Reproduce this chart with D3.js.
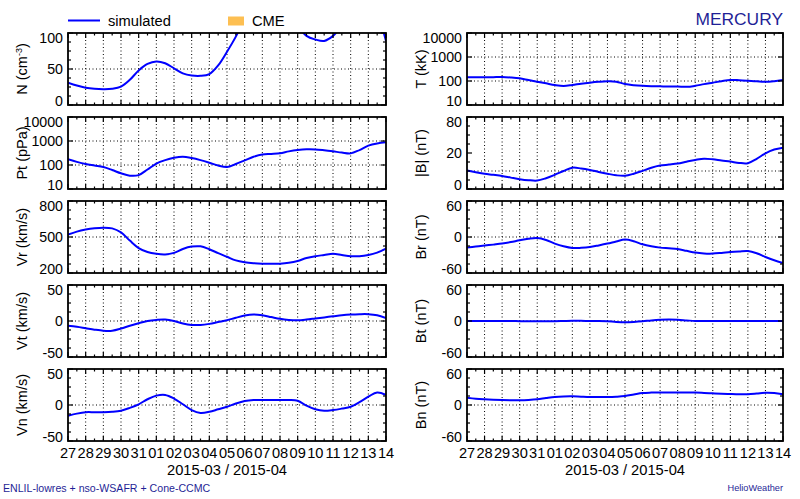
<!DOCTYPE html>
<html><head><meta charset="utf-8">
<script src="https://cdn.jsdelivr.net/npm/d3@7"></script>
<style>
body{margin:0;background:#fff}
svg{display:block}
text{font-family:"Liberation Sans",Arial,Helvetica,sans-serif}
</style>
</head><body>
<svg id="c" width="800" height="499"></svg>
<script>
// ---------------- data ----------------
const startDate = "2015-03-27T00:00:00Z";
const endDate = "2015-04-14T00:00:00Z";
const dayLabels = ["27","28","29","30","31","01","02","03","04","05","06","07","08","09","10","11","12","13","14"];
const axisTitle = "2015-03 / 2015-04";
const dayOffsets = [0,0.5,1,1.5,2,2.5,3,3.5,4,4.5,5,5.5,6,6.5,7,7.5,8,8.5,9,9.5,10,10.5,11,11.5,12,12.5,13,13.5,14,14.5,15,15.5,16,16.5,17,17.5,18];

const density = [31,27,24,22.5,22,22.5,25.5,35,48,57,60.5,58,51,44,41,40.5,43,55,74,95,120,140,155,160,150,130,110,96,91,89,96,110,125,132,130,122,89];
const pressure = [173,135,110,95,82,62,45,36,38,65,115,160,200,220,195,160,125,95,82,110,155,220,275,290,310,370,420,450,445,410,370,330,305,420,640,790,880];
const vr = [520,545,562,573,578,572,538,470,408,375,360,355,368,400,420,422,398,365,335,305,290,282,278,277,278,285,300,325,340,350,360,350,340,340,350,370,403];
const vt = [-6.5,-8,-10,-12,-13.5,-13.5,-10.5,-6.5,-3,0,1.5,2,0,-3.5,-5.5,-5.5,-4,-1.5,1,4.5,7.5,9,8,5.5,3,1.5,1,2,3.5,5,6.5,8,9,9.5,9.5,8,4];
const vn = [-15,-12,-10,-10,-10,-9.5,-8,-4,1,8,13,14,9,1,-7,-11,-9.5,-6,-2.5,2,5.5,7,7,7,7,7,6,-1,-6,-8,-7,-5,-2.5,4,11.5,17.5,14];
const temperature = [143,143,143,145,147,140,129,110,94,80,68,62,68,77,85,92,97,94,75,67,63,61,60,59,59,57,63,74,85,98,110,108,103,97,92,98,110];
const bmag = [5.3,4.3,3.6,3.1,2.6,2.0,1.5,1.2,1.1,1.8,3.1,5.0,7.0,6.5,5.6,4.5,3.6,2.9,2.7,3.6,5.1,7.0,8.5,9.2,10.0,11.5,13.0,14.2,13.6,12.5,11.6,10.5,10.3,14,19.7,24,26.3];
const br = [-17.7,-16,-14.3,-12.7,-11,-8.5,-5.5,-3,-1.8,-5,-11,-15.5,-18.3,-18,-16.7,-14,-11,-7.5,-4.3,-7,-12.2,-15.5,-17.7,-18.8,-20,-23,-26,-27.5,-27.7,-26.5,-25,-24,-23.3,-27,-33.3,-38.8,-43.4];
const bt = [0,0,0,0,0,0,-0.3,-0.5,-0.5,-0.5,-0.3,0,0.3,0.3,0,0,-0.5,-1.5,-2,-1.5,-0.5,1,2,2.3,2,1,0,0,0,0,0,0,0,0,0,0,0];
const bn = [12.2,10.5,9.5,8.8,8.3,8,8,8.5,9.5,11.5,13.3,14.2,14.4,13.8,13.3,13.3,13.3,13.8,14.9,17.5,20,20.7,20.9,21,20.9,21,20.9,20.2,19.4,18.8,18.3,17.9,17.8,19,20.5,20,17.8];

const legendLabels = ["simulated","CME"];
const planetName = "MERCURY";
const footLeft = "ENLIL-lowres + nso-WSAFR + Cone-CCMC";
const footRight = "HelioWeather";

// ---------------- layout ----------------
const svg = d3.select("#c");
const cols = [{x0:68,x1:386},{x0:467,x1:783}];
const rowTops = [33,117,201,285,369];
const PH = 72;
const lineColor = "#0000ff";
const navy = "#1f1f96";

const t0 = new Date(startDate), t1 = new Date(endDate);
const times = dayOffsets.map(d => new Date(t0.getTime() + d*864e5));
const dayTicks = dayLabels.map((_,i) => new Date(t0.getTime() + i*864e5));
const halfTicks = dayLabels.slice(1).map((_,i) => new Date(t0.getTime() + (i+0.5)*864e5));

const panels = [
  {col:0,row:0,title:"N",unit:"cm",sup:"-3",values:density,type:"linear",domain:[0,100],ticks:[0,50,100],grid:[50]},
  {col:0,row:1,title:"Pt (pPa)",values:pressure,type:"log",domain:[10,10000],ticks:[10,100,1000,10000],grid:[100,1000]},
  {col:0,row:2,title:"Vr (km/s)",values:vr,type:"linear",domain:[200,800],ticks:[200,500,800],grid:[500]},
  {col:0,row:3,title:"Vt (km/s)",values:vt,type:"linear",domain:[-50,50],ticks:[-50,0,50],grid:[0]},
  {col:0,row:4,title:"Vn (km/s)",values:vn,type:"linear",domain:[-50,50],ticks:[-50,0,50],grid:[0]},
  {col:1,row:0,title:"T (kK)",values:temperature,type:"log",domain:[10,10000],ticks:[10,100,1000,10000],grid:[100,1000]},
  {col:1,row:1,title:"|B| (nT)",values:bmag,type:"sqrt",domain:[0,80],ticks:[0,20,80],grid:[5]},
  {col:1,row:2,title:"Br (nT)",values:br,type:"linear",domain:[-60,60],ticks:[-60,0,60],grid:[0]},
  {col:1,row:3,title:"Bt (nT)",values:bt,type:"linear",domain:[-60,60],ticks:[-60,0,60],grid:[0]},
  {col:1,row:4,title:"Bn (nT)",values:bn,type:"linear",domain:[-60,60],ticks:[-60,0,60],grid:[0]}
];

const defs = svg.append("defs");

panels.forEach((p,pi) => {
  const c = cols[p.col];
  const top = rowTops[p.row], bot = top + PH;
  const x = d3.scaleUtc().domain([t0,t1]).range([c.x0,c.x1]);
  let y;
  if (p.type === "log") y = d3.scaleLog().domain(p.domain).range([bot,top]);
  else if (p.type === "sqrt") y = d3.scaleSqrt().domain(p.domain).range([bot,top]);
  else y = d3.scaleLinear().domain(p.domain).range([bot,top]);
  const g = svg.append("g");

  // vertical grid (days)
  g.selectAll(null).data(dayTicks.slice(1,-1)).join("line")
    .attr("x1",d=>x(d)).attr("x2",d=>x(d)).attr("y1",top).attr("y2",bot)
    .attr("stroke","#000").attr("stroke-width",1).attr("stroke-dasharray","1,2.5");
  // horizontal grid
  g.selectAll(null).data(p.grid).join("line")
    .attr("x1",c.x0).attr("x2",c.x1).attr("y1",d=>y(d)).attr("y2",d=>y(d))
    .attr("stroke","#000").attr("stroke-width",1).attr("stroke-dasharray","1,2.5");

  // data line, clipped
  const cid = "clip"+pi;
  defs.append("clipPath").attr("id",cid).append("rect")
    .attr("x",c.x0).attr("y",top).attr("width",c.x1-c.x0).attr("height",PH);
  const line = d3.line().x((d,i)=>x(times[i])).y(d=>y(d)).curve(d3.curveCatmullRom.alpha(0.5));
  g.append("path").attr("clip-path",`url(#${cid})`).attr("d",line(p.values))
    .attr("fill","none").attr("stroke",lineColor).attr("stroke-width",2);

  // x ticks (top and bottom, inward)
  const xt = (arr,len) => {
    g.selectAll(null).data(arr).join("line")
      .attr("x1",d=>x(d)).attr("x2",d=>x(d)).attr("y1",bot).attr("y2",bot-len)
      .attr("stroke","#000").attr("stroke-width",1.2);
    g.selectAll(null).data(arr).join("line")
      .attr("x1",d=>x(d)).attr("x2",d=>x(d)).attr("y1",top).attr("y2",top+len)
      .attr("stroke","#000").attr("stroke-width",1.2);
  };
  xt(dayTicks,5); xt(halfTicks,2.5);

  // y ticks (left and right, inward): majors + minors at pixel quarters
  const majorPx = p.ticks.map(v=>y(v));
  const minorPx = [];
  if (p.type !== "log") {
    for (let i=0;i<majorPx.length-1;i++) {
      for (let k=1;k<4;k++) minorPx.push(majorPx[i] + (majorPx[i+1]-majorPx[i])*k/4);
    }
  }
  const yt = (arr,len) => {
    g.selectAll(null).data(arr).join("line")
      .attr("x1",c.x0).attr("x2",c.x0+len).attr("y1",d=>d).attr("y2",d=>d)
      .attr("stroke","#000").attr("stroke-width",1.2);
    g.selectAll(null).data(arr).join("line")
      .attr("x1",c.x1).attr("x2",c.x1-len).attr("y1",d=>d).attr("y2",d=>d)
      .attr("stroke","#000").attr("stroke-width",1.2);
  };
  yt(majorPx,5); yt(minorPx,3);

  // frame
  g.append("rect").attr("x",c.x0).attr("y",top).attr("width",c.x1-c.x0).attr("height",PH)
    .attr("fill","none").attr("stroke","#000").attr("stroke-width",1.8);

  // y tick labels
  g.selectAll(null).data(p.ticks).join("text")
    .attr("x",c.x0-5)
    .attr("y",d=>Math.max(top+4.5,Math.min(bot-4.5,y(d))))
    .attr("dy","0.36em").attr("text-anchor","end")
    .attr("font-size",14.2).attr("fill","#000")
    .text(d=>d);

  // y title
  const tx = p.col===0 ? 22 : 421;
  const tt = g.append("text")
    .attr("transform",`translate(${tx},${(top+bot)/2}) rotate(-90)`)
    .attr("text-anchor","middle").attr("dy","0.36em")
    .attr("font-size",14.5).attr("fill","#000");
  if (p.sup) {
    tt.append("tspan").text(p.title+" ("+p.unit);
    tt.append("tspan").attr("font-size",9).attr("dy","-0.55em").text(p.sup);
    tt.append("tspan").attr("dy","0.35em").text(")");
  } else tt.text(p.title);

  // x tick labels on bottom row
  if (p.row === 4) {
    g.selectAll(null).data(dayTicks).join("text")
      .attr("x",d=>x(d)).attr("y",458).attr("text-anchor","middle")
      .attr("font-size",14.6).attr("fill","#000")
      .text((d,i)=>dayLabels[i]);
    g.append("text").attr("x",(c.x0+c.x1)/2).attr("y",475).attr("text-anchor","middle")
      .attr("font-size",14.7).attr("fill","#000").text(axisTitle);
  }
});

// legend
svg.append("line").attr("x1",68).attr("x2",100).attr("y1",20.5).attr("y2",20.5)
  .attr("stroke",lineColor).attr("stroke-width",2);
svg.append("text").attr("x",108).attr("y",25.5).attr("font-size",14.7).attr("fill","#000").text(legendLabels[0]);
svg.append("rect").attr("x",228).attr("y",16.5).attr("width",16).attr("height",9).attr("fill","#fdbf52");
svg.append("text").attr("x",252).attr("y",25.5).attr("font-size",14.7).attr("fill","#000").text(legendLabels[1]);

// title
svg.append("text").attr("x",783).attr("y",25).attr("text-anchor","end")
  .attr("font-size",17.4).attr("fill",navy).text(planetName);

// footers
svg.append("text").attr("x",3).attr("y",492).attr("font-size",10.6).attr("fill",navy).text(footLeft);
svg.append("text").attr("x",783).attr("y",491).attr("text-anchor","end").attr("font-size",9.2).attr("fill",navy).text(footRight);
</script>
</body></html>
